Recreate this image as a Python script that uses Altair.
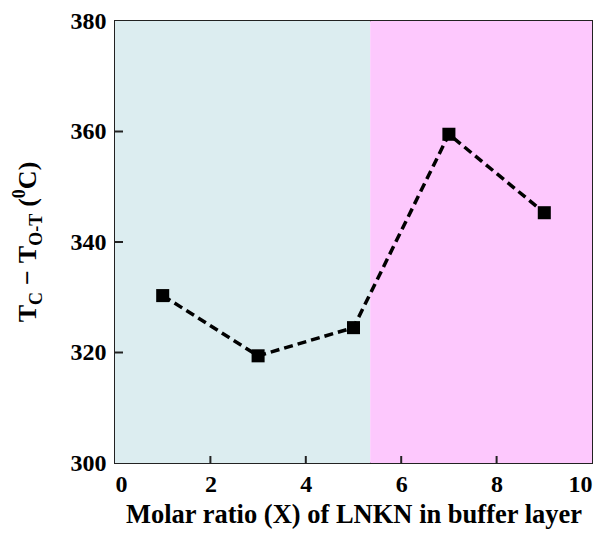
import altair as alt
import pandas as pd

# ---- data ----
x_vals = [1, 3, 5, 7, 9]
y_vals = [330.3, 319.4, 324.5, 359.5, 345.3]
region_start = [0, 5.35]
region_end = [5.35, 10]
region_name = ["low", "high"]
region_colors = ["#dcedf0", "#fdc8fd"]
x_ticks = [0, 2, 4, 6, 8, 10]
y_ticks = [300, 320, 340, 360, 380]
x_inner_ticks = [2, 4, 6, 8]
y_inner_ticks = [320, 340, 360]

W, H = 477, 442
FONT = "Times New Roman, Liberation Serif, serif"

pts = pd.DataFrame({"x": x_vals, "y": y_vals})
reg = pd.DataFrame({"x": region_start, "x2": region_end, "r": region_name})

xscale = alt.Scale(domain=[0, 10], nice=False, zero=False)
yscale = alt.Scale(domain=[300, 380], nice=False, zero=False)

bg = alt.Chart(reg).mark_rect().encode(
    x=alt.X("x:Q", scale=xscale,
            axis=alt.Axis(values=x_ticks, title="Molar ratio (X) of LNKN in buffer layer",
                          ticks=False, domain=False, grid=False, labelPadding=9,
                          titlePadding=5)),
    x2="x2:Q",
    y=alt.value(0),
    y2=alt.value(H),
    color=alt.Color("r:N", scale=alt.Scale(domain=region_name, range=region_colors), legend=None),
)

line = alt.Chart(pts).mark_line(color="black", strokeWidth=3.5, strokeDash=[9, 5]).encode(
    x=alt.X("x:Q", scale=xscale),
    y=alt.Y("y:Q", scale=yscale,
            axis=alt.Axis(values=y_ticks, title=None, ticks=False, domain=False,
                          grid=False, labelPadding=9)),
)
points = alt.Chart(pts).mark_point(shape="square", filled=True, color="black",
                                   opacity=1, size=170).encode(
    x=alt.X("x:Q", scale=xscale),
    y=alt.Y("y:Q", scale=yscale),
)

xt = alt.Chart(pd.DataFrame({"x": x_inner_ticks})).mark_rule(color="#222", strokeWidth=2).encode(
    x=alt.X("x:Q", scale=xscale), y=alt.value(H), y2=alt.value(H - 7))
yt = alt.Chart(pd.DataFrame({"y": y_inner_ticks})).mark_rule(color="#222", strokeWidth=2).encode(
    y=alt.Y("y:Q", scale=yscale), x=alt.value(0), x2=alt.value(8))

# ---- rotated y title built from pieces (main / subscript / superscript) ----
M, S = 26, 18
widths = {"T": .667, "C": .722, "O": .778, "-": .333, "−": .570,
          "(": .333, ")": .333, "0": .5}
# (text, font size, baseline shift, gap after in px)
pieces = [("T", M, 0, 0), ("C", S, 6, 7), ("−", M, 0, 7), ("T", M, 0, 0),
          ("O-T", S, 6, 7), ("(", M, 0, 0), ("0", S, -11, 0), ("C)", M, 0, 0)]
total = sum(sum(widths[c] for c in t) * fs + g for t, fs, _, g in pieces)
base_x = -79
pos = H / 2 + total / 2
rows = []
for t, fs, sh, g in pieces:
    rows.append({"t": t, "px": base_x + sh, "py": pos, "fs": fs})
    pos -= sum(widths[c] for c in t) * fs + g
ttl = alt.Chart(pd.DataFrame(rows)).mark_text(
    angle=270, align="left", baseline="alphabetic", font=FONT, fontWeight="bold",
    color="black").encode(
    x=alt.X("px:Q", scale=None), y=alt.Y("py:Q", scale=None),
    text="t:N", size=alt.Size("fs:Q", scale=None))

chart = alt.layer(bg, xt, yt, line, points, ttl).properties(
    width=W, height=H,
    autosize=alt.AutoSizeParams(type="none"),
    padding={"left": 107, "top": 13, "right": 10, "bottom": 77},
).configure_view(stroke="#222", strokeWidth=2).configure_axis(
    labelFont=FONT, labelFontSize=24, labelFontWeight="bold", labelColor="black",
    titleFont=FONT, titleFontSize=26.5, titleFontWeight="bold", titleColor="black",
)

chart.save("out.html", embed_options={"renderer": "svg", "actions": False})
